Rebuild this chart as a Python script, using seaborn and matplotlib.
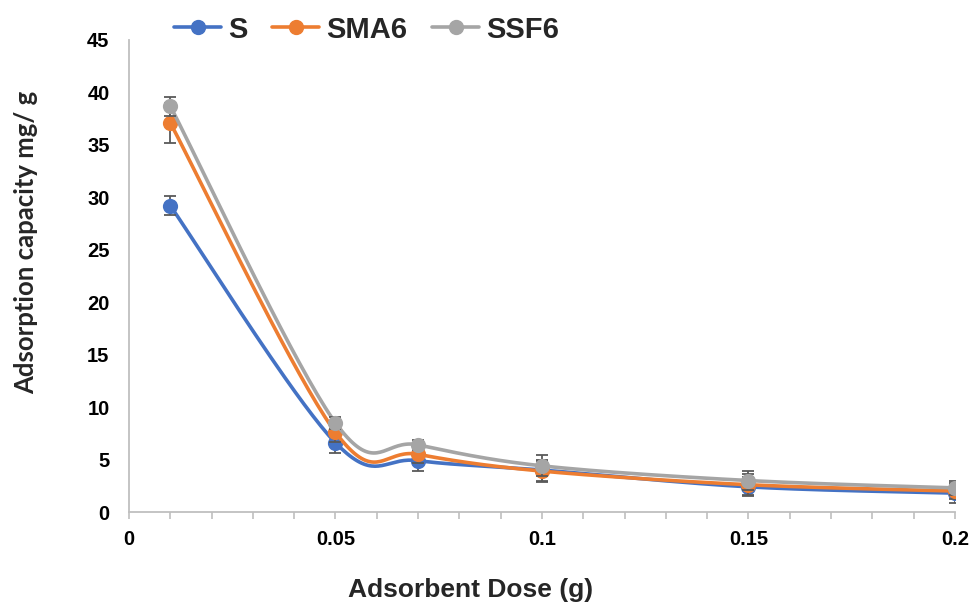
import numpy as np
import pandas as pd
import matplotlib
matplotlib.use("Agg")
import matplotlib.pyplot as plt
import seaborn as sns
from matplotlib.lines import Line2D

dose = [0.01, 0.05, 0.07, 0.1, 0.15, 0.2]
s_vals = [29.2, 6.6, 4.9, 4.0, 2.4, 1.8]
sma6_vals = [37.1, 7.6, 5.5, 3.9, 2.6, 2.0]
ssf6_vals = [38.7, 8.5, 6.4, 4.4, 3.0, 2.3]
s_err = [0.9, 1.0, 1.0, 1.0, 0.9, 0.9]
sma6_err = [1.9, 0.9, 0.8, 1.0, 1.0, 0.8]
ssf6_err = [0.9, 0.6, 0.5, 1.0, 0.9, 0.7]
series_names = ["S", "SMA6", "SSF6"]
x_ticks = [0, 0.05, 0.1, 0.15, 0.2]
x_tick_labels = ["0", "0.05", "0.1", "0.15", "0.2"]
y_ticks = [0, 5, 10, 15, 20, 25, 30, 35, 40, 45]

colors = {"S": "#4472C4", "SMA6": "#ED7D31", "SSF6": "#A5A5A5"}
err_color = "#595959"

sns.set_theme(style="white")
plt.rcParams['font.family'] = ['Liberation Sans', 'DejaVu Sans']

fig = plt.figure(figsize=(9.7, 6.04), dpi=100)
ax = fig.add_axes([0.133, 0.1523, 0.8515, 0.7815])
XMAX, YMAX = 0.2, 45
ax.set_xlim(0, XMAX)
ax.set_ylim(0, YMAX)

W, H = 826.0, 472.0


def smooth(xs, ys, n=40):
    px = np.array(xs) / XMAX * W
    py = np.array(ys) / YMAX * H
    P = np.column_stack([px, py])
    out = []
    m = len(P)
    for i in range(m - 1):
        p0 = P[i - 1] if i > 0 else P[i]
        p1 = P[i]
        p2 = P[i + 1]
        p3 = P[i + 2] if i + 2 < m else P[i + 1]
        c1 = p1 + (p2 - p0) / 6.0
        c2 = p2 - (p3 - p1) / 6.0
        t = np.linspace(0, 1, n)[:, None]
        seg = ((1 - t) ** 3) * p1 + 3 * ((1 - t) ** 2) * t * c1 + 3 * (1 - t) * t ** 2 * c2 + t ** 3 * p2
        out.append(seg if i == 0 else seg[1:])
    arr = np.vstack(out)
    return arr[:, 0] / W * XMAX, arr[:, 1] / H * YMAX


data = {"S": (s_vals, s_err), "SMA6": (sma6_vals, sma6_err), "SSF6": (ssf6_vals, ssf6_err)}

for k, name in enumerate(series_names):
    vals, errs = data[name]
    sx, sy = smooth(dose, vals)
    curve = pd.DataFrame({"x": sx, "y": sy})
    sns.lineplot(data=curve, x="x", y="y", ax=ax, color=colors[name], lw=2.6,
                 sort=False, estimator=None, zorder=2 + k * 3, legend=False)
    ax.errorbar(dose, vals, yerr=errs, fmt="none", ecolor=err_color, elinewidth=1.3,
                capsize=4.5, capthick=1.3, zorder=3 + k * 3)
    pts = pd.DataFrame({"x": dose, "y": vals})
    sns.scatterplot(data=pts, x="x", y="y", ax=ax, color=colors[name], s=120,
                    edgecolor=colors[name], linewidth=0, zorder=4 + k * 3, legend=False)

for sp in ["top", "right"]:
    ax.spines[sp].set_visible(False)
for sp in ["left", "bottom"]:
    ax.spines[sp].set_color("#BFBFBF")
    ax.spines[sp].set_linewidth(1.3)

ax.set_xticks(x_ticks)
ax.set_xticklabels(x_tick_labels)
ax.set_xticks(np.arange(0, 0.2001, 0.01), minor=True)
ax.set_yticks(y_ticks)
ax.tick_params(axis="x", which="both", direction="out", length=5, width=1.2,
               color="#BFBFBF", bottom=True, pad=8)
ax.tick_params(axis="y", length=0, pad=14)
for lab in ax.get_xticklabels() + ax.get_yticklabels():
    lab.set_fontweight("bold")
    lab.set_fontsize(14.5)
    lab.set_color("black")

ax.set_xlabel("Adsorbent Dose (g)", fontsize=19, fontweight="bold", va="center")
ax.xaxis.set_label_coords(0.413, -0.165)
ax.set_ylabel("Adsorption capacity mg/ g", fontsize=18.5, fontweight="bold",
              family=["Lato", "DejaVu Sans"], va="center")
ax.yaxis.set_label_coords(-0.125, 0.572)

handles = [Line2D([0], [0], color=colors[n], lw=2.6, marker="o", markersize=10) for n in series_names]
leg = fig.legend(handles, series_names, loc="center", bbox_to_anchor=(0.378, 0.951), ncol=3,
                 frameon=False, prop={"weight": "bold", "size": 21}, handlelength=1.6,
                 columnspacing=0.85, handletextpad=0.25)

fig.savefig("out.png", dpi=100)
